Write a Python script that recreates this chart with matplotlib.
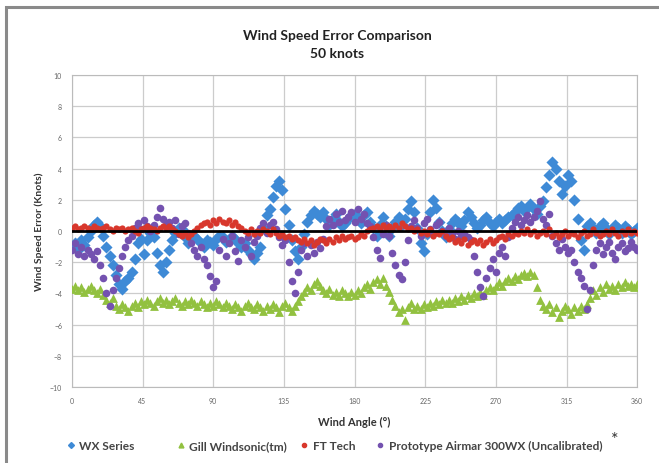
import numpy as np
import matplotlib
matplotlib.use("Agg")
import matplotlib.pyplot as plt
from matplotlib.patches import Rectangle
from matplotlib.lines import Line2D

plt.rcParams['font.family'] = ['Lato', 'DejaVu Sans']

# wind angle, every 2 degrees
angles = list(range(0, 362, 2))

wx_series = [
    -1.0, -0.8, -1.2, -0.6, -0.9, -0.4, 0.0, 0.4, 0.6, 0.3,
    -0.3, -1.0, -1.6, -2.2, -2.8, -3.4, -3.7, -3.2, -3.0, -2.6,
    -1.8, -0.8, -0.5, -1.5, -0.6, -0.1, -0.4, -1.4, -2.2, -2.6,
    -2.0, -1.2, -0.6, -0.1, 0.2, 0.1, -0.4, -0.8, -0.6, -0.3,
    -0.5, -0.8, -1.0, -0.6, -0.7, -0.9, -0.5, -0.3, -0.4, -0.7,
    -0.6, -0.3, -0.5, -0.8, -1.0, -0.8, -1.2, -1.5, -1.8, -1.4,
    -1.0, 0.2, 1.0, 1.4, 2.2, 2.9, 3.2, 2.6, 1.4, 0.4,
    -0.6, -1.3, -1.8, -1.0, -0.2, 0.6, 1.0, 1.3, 1.1, 0.9,
    1.2, 0.8, 0.4, 0.8, 1.1, 0.6, 0.3, 0.5, 0.8, 1.0,
    1.1, 0.8, 0.5, 1.0, 1.2, 0.6, 0.2, -0.3, 0.4, 0.9,
    0.3, -0.3, 0.2, 0.6, 0.9, 0.4, 0.8, 1.4, 1.9, 1.2,
    0.2, -0.8, -1.3, -0.2, 1.2, 2.0, 1.5, 0.6, 0.0, -0.4,
    0.1, 0.5, 0.8, 0.6, 0.3, 0.7, 1.2, 0.9, 0.5, 0.2,
    0.4, 0.7, 0.9, 0.5, 0.3, 0.6, 0.8, 0.5, 0.7, 0.9,
    1.0, 1.2, 1.5, 1.6, 1.3, 1.5, 1.7, 1.4, 1.1, 1.6,
    1.9, 2.8, 3.6, 4.4, 4.0, 3.2, 2.4, 2.9, 3.6, 3.2,
    2.0, 0.8, -0.6, -1.2, 0.3, 0.5, 0.2, -0.1, 0.3, 0.5,
    0.2, -0.2, 0.1, 0.4, 0.2, -0.1, 0.3, 0.1, -0.2, 0.0,
    0.2,
]

gill = [
    -3.7, -3.5, -3.8, -3.6, -3.9, -3.7, -3.5, -3.8, -4.0, -3.7,
    -4.1, -4.4, -4.6, -4.3, -4.8, -5.0, -4.7, -4.9, -5.1, -4.8,
    -4.6, -4.9, -4.5, -4.7, -4.4, -4.6, -4.8, -4.5, -4.3, -4.6,
    -4.4, -4.7, -4.5, -4.3, -4.6, -4.8, -4.5, -4.7, -4.4, -4.6,
    -4.8, -4.5, -4.7, -4.9, -4.6, -4.8, -4.5, -4.7, -4.9, -4.6,
    -4.8, -5.0, -4.7, -4.9, -5.1, -4.8, -4.6, -4.9, -5.0, -4.7,
    -4.9, -5.1, -4.8, -5.0, -4.7, -4.9, -5.2, -4.8, -4.6, -4.9,
    -5.1, -4.8, -4.5, -4.2, -3.9, -3.6, -3.8, -3.4, -3.2, -3.5,
    -3.8, -4.0, -3.7, -4.1, -3.9, -4.2, -3.8, -4.0, -4.2, -3.9,
    -4.1, -3.8, -4.0, -3.6, -3.4, -3.7, -3.3, -3.1, -3.4, -3.0,
    -3.5, -3.9, -4.4, -4.8, -5.2, -5.0, -5.7, -4.9, -4.6, -5.0,
    -4.8, -5.0, -4.7, -4.9, -4.6, -4.8, -4.5, -4.7, -4.4, -4.6,
    -4.4, -4.6, -4.3, -4.5, -4.2, -4.4, -4.1, -4.3, -4.0, -4.2,
    -3.9, -4.1, -3.8, -3.6, -3.8, -3.5, -3.3, -3.5, -3.2, -3.0,
    -3.2, -2.9, -3.1, -2.8, -2.7, -2.9, -2.6, -2.8, -3.6, -4.4,
    -4.8, -5.0, -4.7, -5.2, -4.9, -5.5, -5.1, -4.8, -5.0, -5.3,
    -4.9, -5.1, -4.8, -5.0, -4.7, -4.3, -3.8, -4.1, -3.6, -3.9,
    -3.4, -3.7, -3.5, -3.8, -3.4, -3.6, -3.3, -3.5, -3.4, -3.6,
    -3.4,
]

ft_tech = [
    0.2, 0.3, 0.1, 0.2, 0.3, 0.2, 0.1, 0.3, 0.2, 0.1,
    0.2, 0.3, 0.1, 0.0, 0.2, 0.1, 0.2, 0.0, 0.1, 0.2,
    0.0, -0.1, 0.1, 0.2, 0.3, 0.2, 0.1, 0.0, 0.2, 0.3,
    0.2, 0.3, 0.1, 0.0, -0.2, -0.3, -0.1, -0.4, -0.2, 0.0,
    0.2, 0.4, 0.5, 0.6, 0.4, 0.7, 0.5, 0.8, 0.6, 0.5,
    0.7, 0.4, 0.6, 0.3, 0.2, 0.0, -0.1, 0.1, -0.2, 0.0,
    -0.1, 0.1, 0.0, -0.2, 0.1, -0.1, -0.3, -0.2, -0.4, -0.3,
    -0.5, -0.4, -0.6, -0.7, -0.5, -0.8, -0.6, -0.9, -0.7, -0.5,
    -0.6, -0.8, -0.5, -0.7, -0.4, -0.6, -0.3, -0.5, -0.4, -0.3,
    -0.5, -0.4, -0.2, -0.3, 0.0, 0.1, 0.2, 0.3, 0.1, 0.4,
    0.2, 0.3, 0.1, 0.4, 0.2, 0.5, 0.3, 0.1, 0.2, 0.0,
    0.1, -0.1, 0.0, -0.2, 0.1, -0.3, -0.1, -0.2, 0.0, -0.3,
    -0.5, -0.4, -0.7, -0.6, -0.8, -0.5, -0.9, -0.7, -0.6, -0.8,
    -0.6, -0.9, -0.7, -0.5, -0.8, -0.6, -0.4, -0.3, -0.5, -0.2,
    -0.3, -0.1, -0.2, 0.0, -0.1, 0.1, -0.2, 0.0, -0.3, -0.1,
    0.0, -0.2, 0.1, -0.3, -0.1, -0.4, -0.2, 0.0, -0.3, -0.1,
    -0.2, -0.4, -0.1, 0.0, -0.3, -0.2, 0.1, -0.1, -0.3, -0.2,
    0.0, -0.2, 0.1, -0.1, -0.3, 0.0, -0.2, 0.1, -0.1, 0.0,
    -0.1,
]

prototype = [
    -1.2, -0.8, -1.5, -1.0, -1.6, -1.2, -1.5, -1.8, -1.3, -2.2,
    -3.0, -4.0, -4.8, -3.8, -3.0, -2.4, -1.6, -1.0, -0.6, -0.3,
    0.2, 0.5, 0.1, 0.7, 0.3, 0.0, 0.4, 0.9, 1.5, 0.8,
    0.4, 0.6, 0.2, 0.7, -0.2, 0.3, 0.5, -0.1, -0.8, -1.2,
    -1.6, -1.0, -1.8, -2.2, -2.9, -3.6, -3.2, -1.2, -0.5, -1.6,
    -0.8, -0.3, -1.3, -1.9, -0.6, -1.0, -0.4, -1.6, -0.7, -0.3,
    0.2, 0.5, -0.1, 0.4, 0.6, 0.1, -0.4, -0.9, -0.6, -2.0,
    -3.2, -4.0, -2.6, -1.2, -0.8, -1.6, -0.9, -1.4, -0.7, -1.1,
    -0.5, 0.3, 0.8, 0.4, 1.1, 0.6, 1.3, 0.7, 0.9, 1.2,
    0.6, 1.4, 0.8, 1.1, 0.5, 0.3, -0.4, -1.2, -1.7, -0.2,
    0.4, -0.3, -1.4, -2.2, -2.8, -3.1, -2.0, -0.6, 0.3, 0.7,
    0.2, -0.3, 0.5, 0.8, 0.1, -0.2, 0.4, 0.6, 0.0, -0.3,
    0.2, -0.2, -0.5, 0.0, -0.3, -0.1, -0.4, -0.6, -1.6, -2.6,
    -3.6, -4.2, -3.0, -2.4, -1.8, -2.6, -1.4, -1.0, -1.6, -0.4,
    0.2, 0.6, 0.9, 0.4, 0.7, 1.0, 0.6, 0.9, 1.3, 1.9,
    0.8, 0.4, 1.1, -0.3, -0.8, -1.2, -0.5, -1.0, -1.4, -1.2,
    -2.0, -2.6, -3.0, -3.5, -5.0, -3.8, -2.2, -1.2, -0.8, -1.5,
    -1.0, -0.7, -1.4, -1.8, -1.0, -0.8, -1.3, -1.1, -0.7, -1.0,
    -1.2,
]

x_ticks = [0, 45, 90, 135, 180, 225, 270, 315, 360]
y_ticks = [-10, -8, -6, -4, -2, 0, 2, 4, 6, 8, 10]
labels = ['WX Series', 'Gill Windsonic(tm)', 'FT Tech', 'Prototype Airmar 300WX (Uncalibrated)']

c_blue = '#3e8ad6'
c_green = '#92c140'
c_red = '#d8372c'
c_purple = '#7452b0'

fig = plt.figure(figsize=(6.59, 4.64), dpi=100)
fig.patch.set_facecolor('white')

# grey frame (photo of a report figure)
fig.patches.append(Rectangle((0.009, -0.05), 1.1, 1.032, transform=fig.transFigure,
                             fill=False, edgecolor='#8a8a8a', linewidth=2.2))

ax = fig.add_axes([0.109, 0.164, 0.858, 0.672])

ax.scatter(angles, wx_series, marker='D', s=38, color=c_blue, linewidths=0, zorder=3)
ax.scatter(angles, gill, marker='^', s=40, color=c_green, linewidths=0, zorder=3)
ax.scatter(angles, ft_tech, marker='o', s=20, color=c_red, linewidths=0, zorder=4)
ax.scatter(angles, prototype, marker='o', s=30, color=c_purple, linewidths=0, zorder=3)
ax.axhline(0, color='black', lw=2, zorder=5)

ax.set_xlim(0, 360)
ax.set_ylim(-10, 10)
ax.set_xticks(x_ticks)
ax.set_yticks(y_ticks)
ax.grid(True, color='#cccccc', lw=0.9)
ax.set_axisbelow(True)
for s in ax.spines.values():
    s.set_color('#bbbbbb')
ax.tick_params(length=0, labelsize=5, colors='#666666', pad=7)

ax.set_xlabel('Wind Angle (°)', fontsize=8, fontweight='bold', color='#333333', labelpad=9)
ax.set_ylabel('Wind Speed Error (Knots)', fontsize=7.5, fontweight='bold', color='#333333', labelpad=4)
fig.text(0.512, 0.903, 'Wind Speed Error Comparison\n50 knots', ha='center', va='center',
         fontsize=10, fontweight='bold', color='#222222', linespacing=1.55)

# legend entries placed like the original (uneven spacing)
handles = [
    Line2D([], [], ls='', marker='D', ms=3, color=c_blue),
    Line2D([], [], ls='', marker='^', ms=3.5, color=c_green),
    Line2D([], [], ls='', marker='o', ms=3, color=c_red),
    Line2D([], [], ls='', marker='o', ms=3, color=c_purple),
]
leg_x = [0.098, 0.265, 0.453, 0.568]
for h, lab, lx in zip(handles, labels, leg_x):
    lg = fig.legend(handles=[h], labels=[lab], loc='center left', bbox_to_anchor=(lx, 0.037),
                    frameon=False, fontsize=8.6, handletextpad=0.2, handlelength=1.0,
                    borderaxespad=0, borderpad=0)
    for t in lg.get_texts():
        t.set_color('#444444')
        t.set_fontweight('bold')
fig.text(0.927, 0.052, '*', fontsize=13, color='#333333', ha='left', va='center')

fig.savefig('out.png', dpi=100)
